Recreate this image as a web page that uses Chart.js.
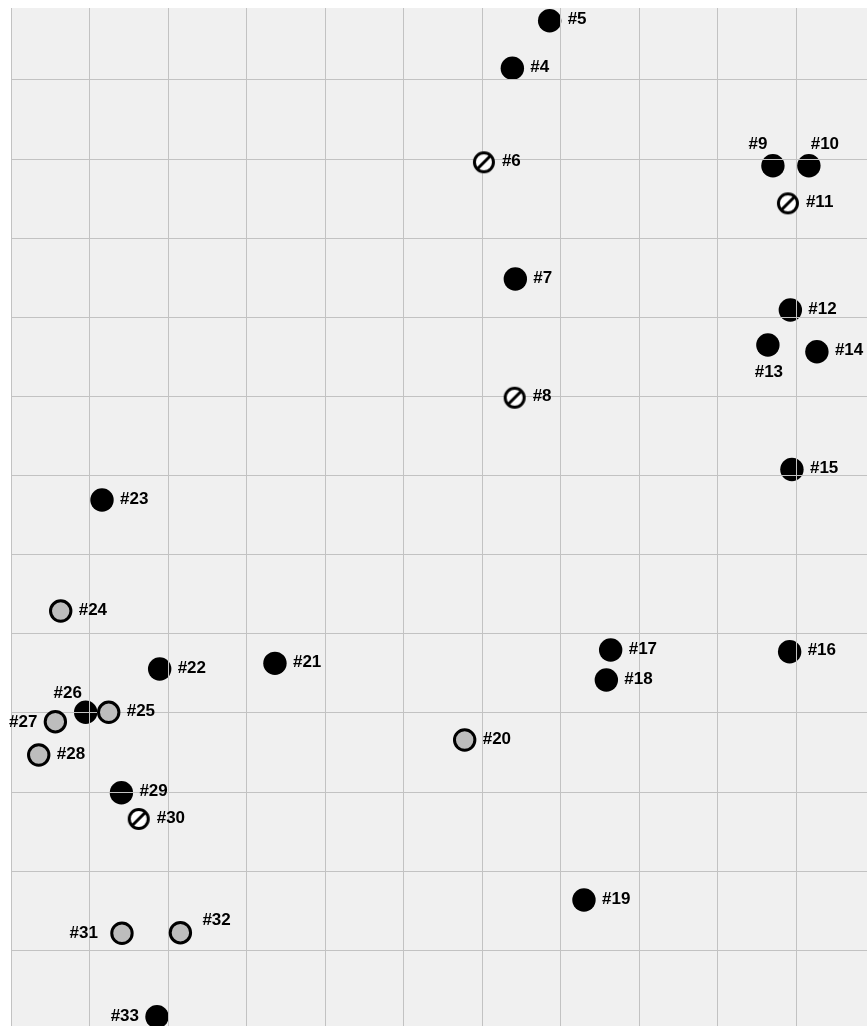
<!DOCTYPE html>
<html><head><meta charset="utf-8">
<script src="https://cdn.jsdelivr.net/npm/chart.js@4.4.0/dist/chart.umd.min.js"></script>
<style>html,body{margin:0;padding:0;background:#fff;overflow:hidden}canvas{display:block}</style>
</head><body>
<canvas id="c" width="867" height="1026"></canvas>
<script>
const pointLabels = ['#4','#5','#6','#7','#8','#9','#10','#11','#12','#13','#14','#15','#16','#17','#18','#19','#20','#21','#22','#23','#24','#25','#26','#27','#28','#29','#30','#31','#32','#33'];
const xValues = [6.384,6.859,6.022,6.422,6.413,9.702,10.160,9.893,9.924,9.638,10.262,9.944,9.915,7.636,7.581,7.296,5.777,3.361,1.893,1.159,0.633,1.244,0.951,0.565,0.353,1.406,1.626,1.413,2.157,1.859];
const yValues = [11.148,11.749,9.960,8.485,6.984,9.917,9.917,9.441,8.093,7.650,7.566,6.077,3.774,3.795,3.416,0.636,2.658,3.627,3.555,5.691,4.288,3.008,3.008,2.889,2.468,1.992,1.660,0.215,0.222,-0.839];
const pointKinds = ['solid','solid','ban','solid','ban','solid','solid','ban','solid','solid','solid','solid','solid','solid','solid','solid','gray','solid','solid','solid','gray','gray','solid','gray','gray','solid','ban','gray','gray','solid'];
const xGridValues = [0,1,2,3,4,5,6,7,8,9,10];
const yGridValues = [0,1,2,3,4,5,6,7,8,9,10,11];

// label placement exceptions (style only)
const labelPlacement = {
  '#9':  {align:'center', dx:-15, dy:-21},
  '#10': {align:'center', dx:16, dy:-21},
  '#13': {align:'center', dx:1, dy:27},
  '#26': {align:'center', dx:-18, dy:-19},
  '#27': {align:'right', dx:-18, dy:1},
  '#31': {align:'right', dx:-24, dy:0},
  '#32': {align:'left', dx:22, dy:-12},
  '#33': {align:'right', dx:-18, dy:0}
};
const defaultPlacement = {align:'left', dx:18, dy:-1};

function banSign() {
  const c = document.createElement('canvas');
  c.width = 26; c.height = 26;
  const g = c.getContext('2d');
  const r = 9.5, cx = 13, cy = 13;
  g.beginPath(); g.arc(cx, cy, r, 0, Math.PI*2);
  g.fillStyle = '#ffffff'; g.fill();
  g.lineWidth = 3; g.strokeStyle = '#000'; g.stroke();
  const d = r * Math.SQRT1_2;
  g.beginPath(); g.moveTo(cx + d, cy - d); g.lineTo(cx - d, cy + d);
  g.stroke();
  return c;
}

function pick(kind) {
  const idx = [];
  pointKinds.forEach((k, i) => { if (k === kind) idx.push(i); });
  return idx.map(i => ({x: xValues[i], y: yValues[i], label: pointLabels[i]}));
}

const datasets = [
  {label:'solid', order: 3, data: pick('solid'), pointRadius: 11.7, pointBackgroundColor:'#000', pointBorderWidth:0, pointBorderColor:'#000'},
  {label:'gray', order: 2, data: pick('gray'), pointRadius: 10.2, pointBackgroundColor:'#bdbdbd', pointBorderWidth:3, pointBorderColor:'#000'},
  {label:'ban', order: 1, data: pick('ban'), pointStyle: banSign(), pointRadius: 11}
].map(d => Object.assign({showLine:false, clip:false, pointHoverRadius:d.pointRadius}, d));

const bgPlugin = {
  id: 'bg',
  beforeDraw(chart) {
    const {ctx, chartArea: a} = chart;
    ctx.save();
    ctx.fillStyle = '#fff';
    ctx.fillRect(0, 0, chart.width, chart.height);
    ctx.fillStyle = '#f0f0f0';
    ctx.fillRect(a.left, a.top, a.right - a.left, a.bottom - a.top);
    ctx.restore();
  },
  afterDatasetDraw(chart, args) {
    // grid shows faintly through the solid dots
    if (args.index === 0) {
      chart.scales.x.drawGrid(chart.chartArea);
      chart.scales.y.drawGrid(chart.chartArea);
    }
  }
};

const labelPlugin = {
  id: 'lbl',
  afterDraw(chart) {
    const ctx = chart.ctx;
    ctx.save();
    ctx.font = 'bold 17px "Liberation Sans", Arial, sans-serif';
    ctx.fillStyle = '#000';
    ctx.textBaseline = 'middle';
    chart.data.datasets.forEach((ds, di) => {
      const meta = chart.getDatasetMeta(di);
      meta.data.forEach((el, j) => {
        const lab = ds.data[j].label;
        const p = labelPlacement[lab] || defaultPlacement;
        ctx.textAlign = p.align;
        ctx.fillText(lab, el.x + p.dx, el.y + p.dy);
      });
    });
    ctx.restore();
  }
};

function axis(min, max, grid) {
  return {
    type: 'linear', min, max,
    afterBuildTicks: s => { s.ticks = grid.map(v => ({value: v})); },
    ticks: {display: false},
    grid: {color: '#c2c2c2', lineWidth: 1, drawTicks: false},
    border: {display: false},
    title: {display: false}
  };
}

new Chart(document.getElementById('c'), {
  type: 'scatter',
  data: {datasets},
  options: {
    responsive: false,
    animation: false,
    layout: {autoPadding: false, padding: {left: 11, top: 8, right: 0, bottom: 0}},
    plugins: {legend: {display: false}, tooltip: {enabled: false}},
    scales: {
      x: axis(0, 10.9, xGridValues),
      y: axis(-0.957, 11.91, yGridValues)
    }
  },
  plugins: [bgPlugin, labelPlugin]
});
</script>
</body></html>
